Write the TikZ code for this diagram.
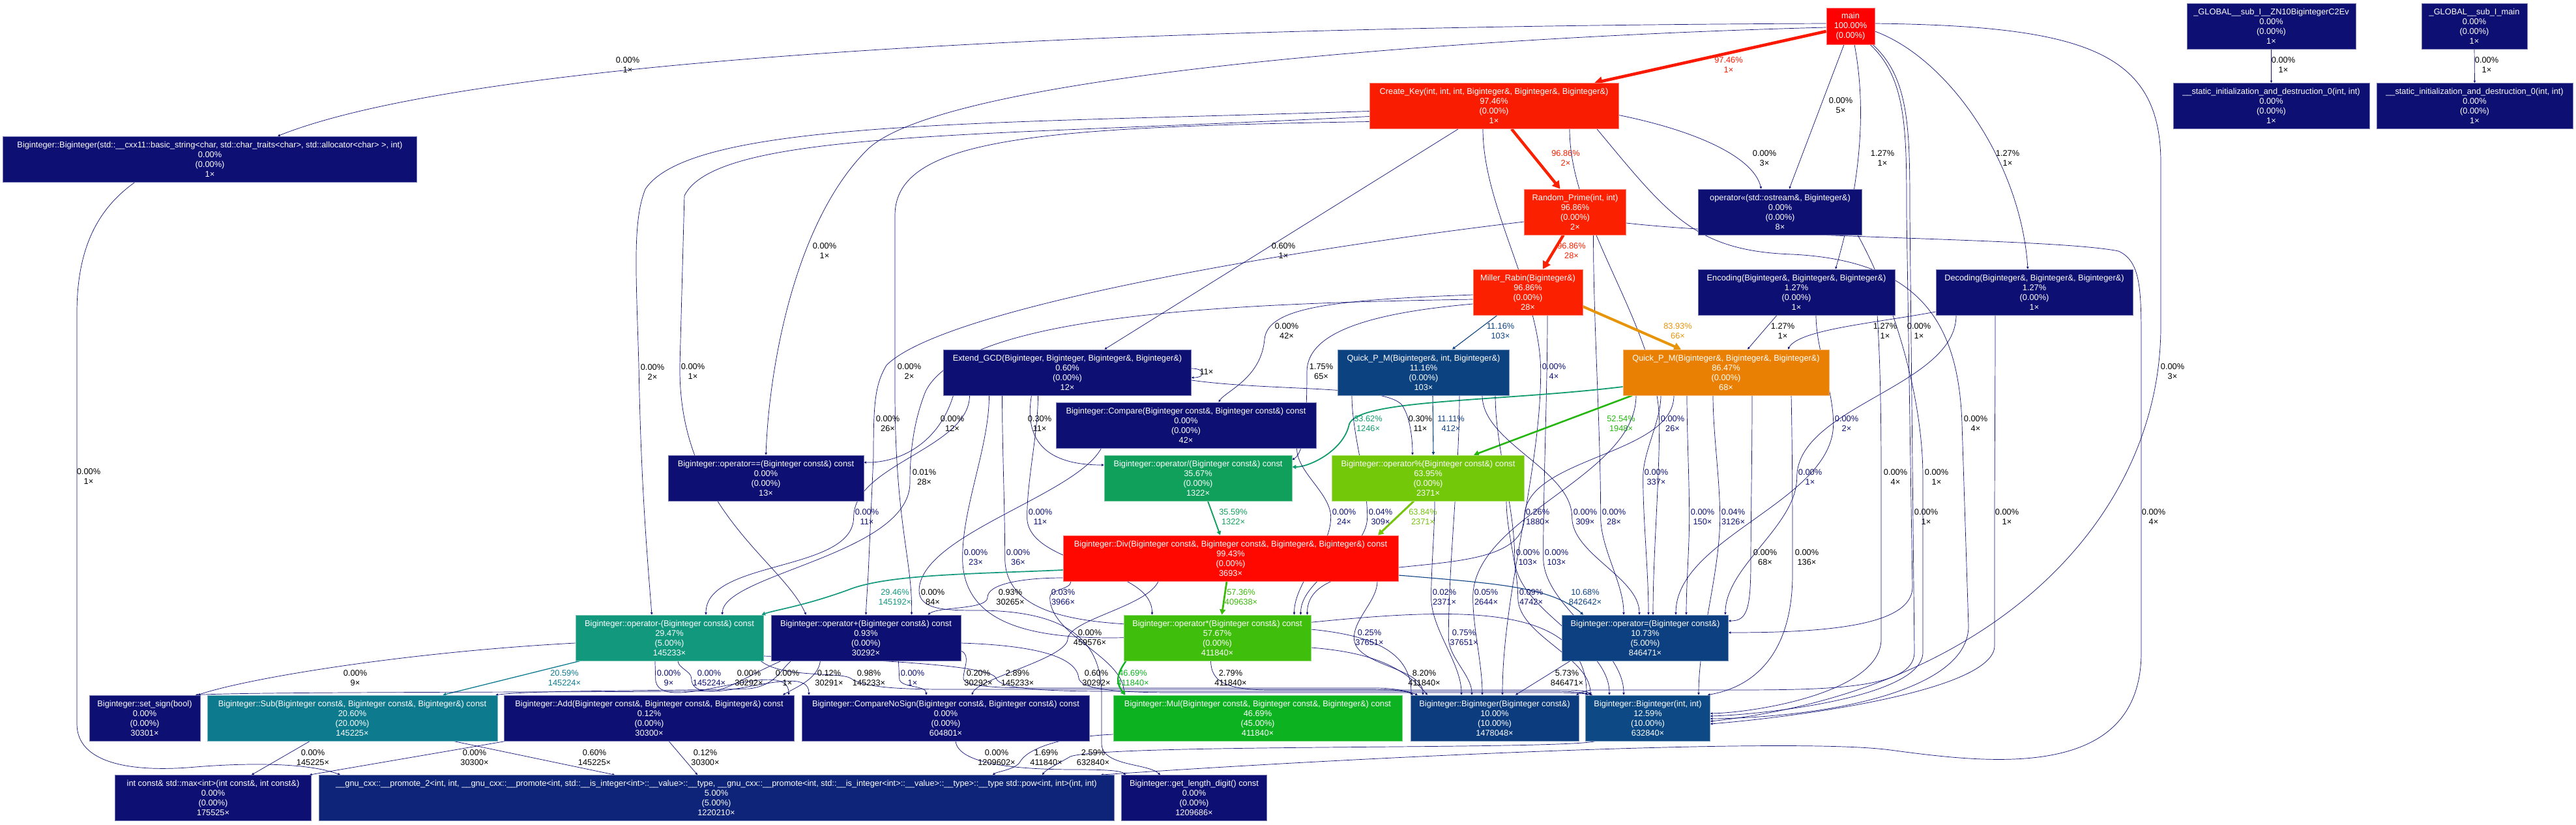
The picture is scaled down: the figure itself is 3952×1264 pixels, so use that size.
\documentclass[tikz,border=0pt]{standalone}
\usepackage{fontspec}
\setmainfont{Liberation Sans}
\usetikzlibrary{arrows.meta}
\definecolor{navy}{RGB}{13,15,115}
\definecolor{redM}{RGB}{255,0,0}
\definecolor{redA}{RGB}{250,25,0}
\definecolor{redC}{RGB}{250,28,0}
\definecolor{redB}{RGB}{250,32,0}
\definecolor{redD}{RGB}{255,8,0}
\definecolor{orangeA}{RGB}{233,128,3}
\definecolor{orangeE}{RGB}{232,148,8}
\definecolor{greenM}{RGB}{115,200,10}
\definecolor{greenD}{RGB}{118,196,14}
\definecolor{greenS}{RGB}{64,190,12}
\definecolor{greenA}{RGB}{60,186,10}
\definecolor{greenB}{RGB}{38,182,16}
\definecolor{greenC}{RGB}{12,178,32}
\definecolor{tealD}{RGB}{16,160,92}
\definecolor{tealB}{RGB}{16,155,110}
\definecolor{tealA}{RGB}{18,152,125}
\definecolor{tealC}{RGB}{14,122,142}
\definecolor{blueA}{RGB}{13,66,128}
\definecolor{blueB}{RGB}{13,64,128}
\definecolor{blueC}{RGB}{13,60,126}
\definecolor{blueD}{RGB}{13,74,133}
\definecolor{blueE}{RGB}{13,36,120}
\pgfdeclarelayer{edges}
\pgfsetlayers{edges,main}
\tikzset{
  >={Triangle[length=2pt 2.2,width=1.5pt 2.6]},
  fn/.style={fill=#1,draw=#1!55!white,line width=0.8pt,text=white,
    font=\fontsize{12.8}{15}\selectfont,align=center,inner sep=0pt,minimum height=70pt},
  fn/.default=navy,
  lbl/.style={font=\fontsize{12.8}{15}\selectfont,align=center,inner sep=0pt},
  call/.style={->,draw=#1,line width=0.7pt},
  call/.default=navy,
}
% label first, then the call bent past its left side
\newcommand{\calls}[6][navy]{%
  \node[lbl,text=#1] (l) at (#4) {#5\\#6×};
  \draw[call=#1] (#2) to[out=-90,in=90,looseness=0.8] ([xshift=-2pt]l.west)
    to[out=-90,in=90,looseness=0.8] (#3);}

\begin{document}
\begin{tikzpicture}[x=1pt,y=-1pt]
\useasboundingbox (0,0) rectangle (3952,1264);
% functions
\node[fn=redM,minimum width=74pt,minimum height=56pt] (main) at (2839,40) {main\\100.00\%\\(0.00\%)};
\node[fn,minimum width=259pt] (g1) at (3484.5,40) {\_GLOBAL\_\_sub\_I\_\_ZN10BigintegerC2Ev\\0.00\%\\(0.00\%)\\1×};
\node[fn,minimum width=162pt] (g2) at (3796,40) {\_GLOBAL\_\_sub\_I\_main\\0.00\%\\(0.00\%)\\1×};
\node[fn,minimum width=301pt] (s1) at (3484.5,162.5) {\_\_static\_initialization\_and\_destruction\_0(int, int)\\0.00\%\\(0.00\%)\\1×};
\node[fn,minimum width=301pt] (s2) at (3796.5,162.5) {\_\_static\_initialization\_and\_destruction\_0(int, int)\\0.00\%\\(0.00\%)\\1×};
\node[fn,minimum width=635pt] (bstr) at (322,244) {Biginteger::Biginteger(std::\_\_cxx11::basic\_string<char, std::char\_traits<char>, std::allocator<char> >, int)\\0.00\%\\(0.00\%)\\1×};
\node[fn=redC,minimum width=382pt] (ckey) at (2292,162.5) {Create\_Key(int, int, int, Biginteger\&, Biginteger\&, Biginteger\&)\\97.46\%\\(0.00\%)\\1×};
\node[fn=redB,minimum width=156pt] (rprime) at (2416.5,325) {Random\_Prime(int, int)\\96.86\%\\(0.00\%)\\2×};
\node[fn,minimum width=251pt] (ostream) at (2731,325) {operator<<(std::ostream\&, Biginteger\&)\\0.00\%\\(0.00\%)\\8×};
\node[fn=redB,minimum width=168pt] (miller) at (2344,448) {Miller\_Rabin(Biginteger\&)\\96.86\%\\(0.00\%)\\28×};
\node[fn,minimum width=302pt] (encoding) at (2756,448) {Encoding(Biginteger\&, Biginteger\&, Biginteger\&)\\1.27\%\\(0.00\%)\\1×};
\node[fn,minimum width=302pt] (decoding) at (3121,448) {Decoding(Biginteger\&, Biginteger\&, Biginteger\&)\\1.27\%\\(0.00\%)\\1×};
\node[fn,minimum width=380pt] (egcd) at (1637.5,571) {Extend\_GCD(Biginteger, Biginteger, Biginteger\&, Biginteger\&)\\0.60\%\\(0.00\%)\\12×};
\node[fn=blueA,minimum width=263pt] (qpmi) at (2184,571) {Quick\_P\_M(Biginteger\&, int, Biginteger\&)\\11.16\%\\(0.00\%)\\103×};
\node[fn=orangeA,minimum width=316pt] (qpmb) at (2648,571) {Quick\_P\_M(Biginteger\&, Biginteger\&, Biginteger\&)\\86.47\%\\(0.00\%)\\68×};
\node[fn,minimum width=399pt] (compare) at (1819.5,652) {Biginteger::Compare(Biginteger const\&, Biginteger const\&) const\\0.00\%\\(0.00\%)\\42×};
\node[fn,minimum width=300pt] (opeq) at (1175,733) {Biginteger::operator==(Biginteger const\&) const\\0.00\%\\(0.00\%)\\13×};
\node[fn=tealD,minimum width=288pt] (opdiv) at (1838,733) {Biginteger::operator/(Biginteger const\&) const\\35.67\%\\(0.00\%)\\1322×};
\node[fn=greenM,minimum width=295pt] (opmod) at (2191,733) {Biginteger::operator\%(Biginteger const\&) const\\63.95\%\\(0.00\%)\\2371×};
\node[fn=redD,minimum width=514pt] (div) at (1888,856) {Biginteger::Div(Biginteger const\&, Biginteger const\&, Biginteger\&, Biginteger\&) const\\99.43\%\\(0.00\%)\\3693×};
\node[fn=tealA,minimum width=288pt] (opsub) at (1027,978) {Biginteger::operator-(Biginteger const\&) const\\29.47\%\\(5.00\%)\\145233×};
\node[fn,minimum width=291pt] (opadd) at (1328.5,978) {Biginteger::operator+(Biginteger const\&) const\\0.93\%\\(0.00\%)\\30292×};
\node[fn=greenS,minimum width=287pt] (opmul) at (1867.5,978) {Biginteger::operator*(Biginteger const\&) const\\57.67\%\\(0.00\%)\\411840×};
\node[fn=blueB,minimum width=255pt] (opset) at (2524,978) {Biginteger::operator=(Biginteger const\&)\\10.73\%\\(5.00\%)\\846471×};
\node[fn,minimum width=170pt] (setsign) at (222,1101) {Biginteger::set\_sign(bool)\\0.00\%\\(0.00\%)\\30301×};
\node[fn=tealC,minimum width=445pt] (sub) at (540.5,1101) {Biginteger::Sub(Biginteger const\&, Biginteger const\&, Biginteger\&) const\\20.60\%\\(20.00\%)\\145225×};
\node[fn,minimum width=445pt] (add) at (996,1101) {Biginteger::Add(Biginteger const\&, Biginteger const\&, Biginteger\&) const\\0.12\%\\(0.00\%)\\30300×};
\node[fn,minimum width=441pt] (cmpns) at (1451,1101) {Biginteger::CompareNoSign(Biginteger const\&, Biginteger const\&) const\\0.00\%\\(0.00\%)\\604801×};
\node[fn=greenC,minimum width=443pt] (mul) at (1929.5,1101) {Biginteger::Mul(Biginteger const\&, Biginteger const\&, Biginteger\&) const\\46.69\%\\(45.00\%)\\411840×};
\node[fn=blueC,minimum width=258pt] (bcopy) at (2293,1101) {Biginteger::Biginteger(Biginteger const\&)\\10.00\%\\(10.00\%)\\1478048×};
\node[fn=blueD,minimum width=191pt] (bint) at (2528,1101) {Biginteger::Biginteger(int, int)\\12.59\%\\(10.00\%)\\632840×};
\node[fn,minimum width=301pt] (imax) at (327,1223.5) {int const\& std::max<int>(int const\&, int const\&)\\0.00\%\\(0.00\%)\\175525×};
\node[fn=blueE,minimum width=1220pt] (pow) at (1099,1223.5) {\_\_gnu\_cxx::\_\_promote\_2<int, int, \_\_gnu\_cxx::\_\_promote<int, std::\_\_is\_integer<int>::\_\_value>::\_\_type, \_\_gnu\_cxx::\_\_promote<int, std::\_\_is\_integer<int>::\_\_value>::\_\_type>::\_\_type std::pow<int, int>(int, int)\\5.00\%\\(5.00\%)\\1220210×};
\node[fn,minimum width=223pt] (gld) at (1832,1223.5) {Biginteger::get\_length\_digit() const\\0.00\%\\(0.00\%)\\1209686×};

\begin{pgfonlayer}{edges}
\fill[white] (0,0) rectangle (3952,1264);
% calls from main
\draw[call=redA,line width=4.6pt] ([yshift=-8]main.west) -- ([xshift=154]ckey.north);
\node[lbl,text=redA] at (2652,100) {97.46\%\\1×};
\draw[call] ([yshift=4]main.west) .. controls (1800,40) and (750,80) .. ([xshift=104]bstr.north);
\node[lbl] at (963,100) {0.00\%\\1×};
\draw[call] ([yshift=-2]main.west) .. controls (2300,55) and (1450,110) .. (1330,230) .. controls (1220,340) and (1180,560) .. (opeq.north);
\node[lbl] at (1265,385) {0.00\%\\1×};
\draw[call] ([xshift=-10]main.south) -- ([xshift=14]ostream.north);
\node[lbl] at (2824,162) {0.00\%\\5×};
\draw[call] ([xshift=6]main.south) .. controls (2870,200) and (2840,330) .. ([xshift=60]encoding.north);
\node[lbl] at (2888,243) {1.27\%\\1×};
\draw[call] ([yshift=-8]main.east) .. controls (2990,90) and (3100,250) .. ([xshift=-10]decoding.north);
\node[lbl] at (3080,243) {1.27\%\\1×};
\draw[call] ([yshift=4]main.east) .. controls (3200,40) and (3315,80) .. (3315,250) -- (3315,500) .. controls (3315,800) and (3050,1060) .. ([yshift=-5]bint.east);
\node[lbl] at (3333,570) {0.00\%\\3×};
\draw[call] ([xshift=30]main.south) .. controls (2925,120) and (2925,200) .. (2925,330) -- (2934,900) .. controls (2934,960) and (2800,970) .. ([yshift=8]opset.east);
\node[lbl] at (2944,508) {0.00\%\\1×};
\draw[call] ([xshift=34]main.south) .. controls (2930,120) and (2930,200) .. (2930,330) -- (2937,1000) .. controls (2937,1058) and (2800,1058) .. (2640,1058) -- (2440,1058) .. controls (2430,1060) and (2425,1062) .. ([xshift=125]bcopy.north);
\node[lbl] at (2955,793) {0.00\%\\1×};
\draw[call] (g1.south) -- (s1.north);
\node[lbl] at (3503,100) {0.00\%\\1×};
\draw[call] (g2.south) -- (s2.north);
\node[lbl] at (3815,100) {0.00\%\\1×};

% Create_Key and Random_Prime
\draw[call=redB,line width=4.4pt] ([xshift=27]ckey.south) -- ([xshift=-23]rprime.north);
\node[lbl,text=redB] at (2402,243) {96.86\%\\2×};
\draw[call=redB,line width=4.4pt] ([xshift=-18]rprime.south) -- ([xshift=23]miller.north);
\node[lbl,text=redB] at (2411,385) {96.86\%\\28×};
\draw[call] ([yshift=-14]ckey.east) .. controls (2600,200) and (2690,240) .. ([xshift=-29]ostream.north);
\node[lbl] at (2707,243) {0.00\%\\3×};
\draw[call] ([xshift=-55]ckey.south) -- ([xshift=57]egcd.north);
\node[lbl] at (1969,385) {0.60\%\\1×};
\draw[call] ([yshift=-8]ckey.west) .. controls (1500,190) and (1060,185) .. (990,290) .. controls (970,340) and (976,420) .. (980,560) .. controls (983,720) and (990,820) .. ([xshift=-27]opsub.north);
\node[lbl] at (1001,571) {0.00\%\\2×};
\draw[call] ([yshift=-16]ckey.west) .. controls (1500,210) and (1100,200) .. (1050,300) -- (1043,560) .. controls (1040,780) and (1200,860) .. ([xshift=-92]opadd.north);
\node[lbl] at (1063,570) {0.00\%\\1×};
\draw[call] ([yshift=-24]ckey.west) .. controls (1600,195) and (1373,210) .. (1373,330) -- (1373,600) .. controls (1373,800) and (1400,860) .. ([xshift=70]opadd.north);
\node[lbl] at (1395,570) {0.00\%\\2×};
\draw[call] ([xshift=158]ckey.south) .. controls (2560,330) and (2600,385) .. (2750,390) .. controls (2950,400) and (3005,500) .. (3010,650) -- (3020,960) .. controls (3020,1060) and (2800,1100) .. ([yshift=-1]bint.east);
\node[lbl] at (3031,650) {0.00\%\\4×};
\calls{[xshift=-17]ckey.south}{[xshift=12]bcopy.north}{2384,570}{0.00\%}{4}
\calls{[xshift=116]ckey.south}{[xshift=12]opset.north}{2566,650}{0.00\%}{26}
\draw[call] ([yshift=-15]rprime.west) .. controls (2000,380) and (1450,470) .. (1360,560) .. controls (1342,590) and (1340,620) .. (1340,700) -- (1332,880) .. controls (1330,915) and (1329,925) .. (opadd.north);
\node[lbl] at (1362,650) {0.00\%\\26×};
\calls{[xshift=28]rprime.south}{[xshift=-33]opset.north}{2476,793}{0.00\%}{28}
\draw[call] ([yshift=-17]rprime.east) .. controls (2700,365) and (3150,365) .. (3250,385) .. controls (3283,400) and (3285,440) .. (3285,520) -- (3285,1000) .. controls (3285,1200) and (3050,1170) .. (2900,1150) .. controls (2750,1130) and (2100,1160) .. ([xshift=590]pow.north);
\node[lbl] at (3304,793) {0.00\%\\4×};

% Miller_Rabin, Encoding, Decoding
\draw[call=blueA,line width=1.1pt] ([xshift=-47]miller.south) -- ([xshift=44]qpmi.north);
\node[lbl,text=blueA] at (2302,508) {11.16\%\\103×};
\draw[call=orangeE,line width=4pt] ([yshift=-22]miller.east) -- ([xshift=-69]qpmb.north);
\node[lbl,text=orangeE] at (2574,508) {83.93\%\\66×};
\draw[call] ([yshift=-4]miller.west) .. controls (2050,460) and (1945,470) .. (1940,520) .. controls (1935,580) and (1880,600) .. ([xshift=50]compare.north);
\node[lbl] at (1974,508) {0.00\%\\42×};
\draw[call] ([yshift=-18]miller.west) .. controls (2100,480) and (2005,510) .. (2005,570) .. controls (2005,650) and (2000,695) .. ([yshift=28]opdiv.east);
\node[lbl] at (2027,570) {1.75\%\\65×};
\draw[call] ([yshift=-11]miller.west) .. controls (1900,465) and (1480,480) .. (1420,600) .. controls (1400,650) and (1396,700) .. (1396,740) .. controls (1396,850) and (1110,880) .. ([xshift=81]opsub.north);
\node[lbl] at (1418,732) {0.01\%\\28×};
\calls{[xshift=30]miller.south}{[xshift=-37]bint.north}{2388,855}{0.00\%}{103}
\draw[call] ([xshift=-30]encoding.south) -- ([xshift=33]qpmb.north);
\node[lbl] at (2735,508) {1.27\%\\1×};
\draw[call] ([yshift=-30]decoding.west) .. controls (2880,495) and (2760,505) .. ([xshift=95]qpmb.north);
\node[lbl] at (2892,508) {1.27\%\\1×};
\calls{[xshift=30]encoding.south}{[xshift=47]opset.north}{2833,650}{0.00\%}{2}
\draw[call] ([xshift=124]encoding.south) .. controls (2885,560) and (2886,650) .. (2886,732) -- (2886,980) .. controls (2886,1060) and (2700,1092) .. ([yshift=7]bint.east);
\node[lbl] at (2908,732) {0.00\%\\4×};
\draw[call] ([xshift=119]ostream.south) .. controls (2900,450) and (2950,600) .. (2950,732) -- (2950,1000) .. controls (2950,1070) and (2700,1096) .. ([yshift=3]bint.east);
\node[lbl] at (2971,732) {0.00\%\\1×};
\calls{[xshift=-120]decoding.south}{[xshift=-5]opset.north east}{2777,732}{0.00\%}{1}
\draw[call] ([xshift=-60]decoding.south) .. controls (3061,600) and (3060,700) .. (3060,800) -- (3060,990) .. controls (3060,1060) and (2750,1100) .. ([yshift=-9]bint.east);
\node[lbl] at (3079,793) {0.00\%\\1×};

% Quick_P_M
\draw[call=blueA,line width=1.1pt] ([xshift=14]qpmi.south) -- ([xshift=8]opmod.north);
\node[lbl,text=blueA] at (2226,650) {11.11\%\\412×};
\draw[call=greenB,line width=2.6pt] ([xshift=-144]qpmb.south) -- ([xshift=70]opmod.north);
\node[lbl,text=greenB] at (2487,650) {52.54\%\\1948×};
\draw[call=tealB,line width=1.8pt] ([yshift=-22]qpmb.west) .. controls (2300,616) and (2085,612) .. (2070,650) .. controls (2062,690) and (2010,716) .. ([yshift=17]opdiv.east);
\node[lbl,text=tealB] at (2099,650) {33.62\%\\1246×};
\calls{[xshift=-100]qpmb.south}{[xshift=5]opset.north}{2541,732}{0.00\%}{337}
\calls{[xshift=-60]qpmb.south}{[xshift=63]opset.north}{2612,793}{0.00\%}{150}
\calls{[xshift=-20]qpmb.south}{[xshift=78]bint.north}{2659,793}{0.04\%}{3126}
\draw[call] ([xshift=40]qpmb.south) .. controls (2688,700) and (2686,800) .. (2686,860) .. controls (2686,935) and (2680,952) .. ([yshift=26]opset.east);
\node[lbl] at (2708,855) {0.00\%\\68×};
\draw[call] ([xshift=100]qpmb.south) .. controls (2750,700) and (2750,800) .. (2750,880) .. controls (2750,1040) and (2650,1060) .. ([xshift=-4]bint.north east);
\node[lbl] at (2772,855) {0.00\%\\136×};
\calls{[xshift=-80]qpmb.south}{[xshift=138]opmul.north}{2359,793}{0.26\%}{1880}
\calls{[xshift=-138]qpmb.south}{[xshift=-19]bcopy.north}{2280,916}{0.05\%}{2644}
\calls{[xshift=-110]qpmi.south}{[xshift=128]opmul.north}{2118,793}{0.04\%}{309}
\calls{[xshift=90]qpmi.south}{[xshift=-9]opset.north}{2432,793}{0.00\%}{309}
\calls{[xshift=110]qpmi.south}{[xshift=-59]bint.north}{2344,855}{0.00\%}{103}
\calls{[xshift=55]qpmi.south}{[xshift=-35]bcopy.north}{2246,978}{0.75\%}{37651}

% Extend_GCD and Compare
\draw[call] ([yshift=6]egcd.east) .. controls +(22,0) and +(22,0) .. ([yshift=-8]egcd.east);
\node[lbl] at (1851,570) {11×};
\draw[call] ([xshift=-175]egcd.south) .. controls (1440,680) and (1380,710) .. ([yshift=24]opeq.east);
\node[lbl] at (1461,650) {0.00\%\\12×};
\draw[call] ([xshift=-55]egcd.south) .. controls (1570,680) and (1610,713) .. ([yshift=20]opdiv.west);
\node[lbl] at (1595,650) {0.30\%\\11×};
\draw[call] ([yshift=-12]egcd.east) .. controls (1950,600) and (2120,590) .. (2150,620) .. controls (2165,640) and (2167,680) .. ([xshift=-24]opmod.north);
\node[lbl] at (2179,650) {0.30\%\\11×};
\calls{[xshift=-150]egcd.south}{[xshift=56]opsub.north}{1330,793}{0.00\%}{11}
\calls{[xshift=-45]egcd.south}{[xshift=-100]opmul.north}{1596,793}{0.00\%}{11}
\calls{[xshift=-100]egcd.south}{[xshift=-128]bcopy.north}{1562,855}{0.00\%}{36}
\calls{[xshift=-120]egcd.south}{[xshift=-94]bint.north}{1497,855}{0.00\%}{23}
\draw[call] ([xshift=-130]compare.south) .. controls (1650,760) and (1412,820) .. (1410,905) .. controls (1410,935) and (1450,936) .. (1500,936) .. controls (1660,936) and (1690,1000) .. (1690,1066) -- (1690,1140) .. controls (1690,1175) and (1760,1170) .. ([xshift=-52]gld.north);
\node[lbl] at (1431,916) {0.00\%\\84×};
\calls{[xshift=170]compare.south}{[xshift=118]opmul.north}{2062,793}{0.00\%}{24}

% Div
\draw[call=greenD,line width=3pt] ([xshift=-22]opmod.south) -- ([xshift=226]div.north);
\node[lbl,text=greenD] at (2183,793) {63.84\%\\2371×};
\draw[call=tealD,line width=1.9pt] ([xshift=15]opdiv.south) -- ([xshift=-16]div.north);
\node[lbl,text=tealD] at (1892,793) {35.59\%\\1322×};
\draw[call=tealA,line width=1.7pt] ([yshift=-18]div.west) .. controls (1500,880) and (1360,880) .. (1300,905) .. controls (1230,930) and (1190,935) .. ([xshift=-3]opsub.north east);
\node[lbl,text=tealA] at (1373,916) {29.46\%\\145192×};
\draw[call] ([yshift=-30]div.west) .. controls (1570,886) and (1515,895) .. (1515,916) .. controls (1515,935) and (1440,930) .. ([xshift=95]opadd.north);
\node[lbl] at (1550,916) {0.93\%\\30265×};
\draw[call=greenA,line width=2.8pt] ([xshift=-6]div.south) -- ([xshift=7]opmul.north);
\node[lbl,text=greenA] at (1904,916) {57.36\%\\409638×};
\draw[call=blueB,line width=1.1pt] ([yshift=-26]div.east) .. controls (2300,895) and (2380,900) .. ([xshift=-95]opset.north);
\node[lbl,text=blueB] at (2432,916) {10.68\%\\842642×};
\draw[call] ([xshift=-111]div.south) .. controls (1760,930) and (1640,950) .. (1638,980) .. controls (1636,1010) and (1500,1040) .. ([xshift=40]cmpns.north);
\node[lbl] at (1672,978) {0.00\%\\459576×};
\calls{[xshift=-245]div.south}{[xshift=-205]mul.north}{1631,916}{0.03\%}{3966}
\calls{[xshift=225]div.south}{[xshift=-110]bcopy.north}{2101,978}{0.25\%}{37651}
\calls{[xshift=10]opmod.south}{[xshift=-51]bcopy.north}{2216,916}{0.02\%}{2371}
\calls{[xshift=120]opmod.south}{[xshift=-88]bint.north}{2349,916}{0.09\%}{4742}

% operators
\draw[call] ([yshift=-8]opsub.west) .. controls (620,1000) and (380,1040) .. ([xshift=-4]setsign.north east);
\node[lbl] at (545,1040) {0.00\%\\9×};
\draw[call=tealC,line width=1.3pt] ([xshift=-137]opsub.south) -- ([xshift=139]sub.north);
\node[lbl,text=tealC] at (866,1040) {20.59\%\\145224×};
\calls{[xshift=-22]opsub.south}{[xshift=214]add.north}{1026,1040}{0.00\%}{9}
\calls{[xshift=13]opsub.south}{[xshift=-210]cmpns.north}{1088,1040}{0.00\%}{145224}
\draw[call] ([xshift=140]opsub.south) .. controls (1200,1040) and (1290,1030) .. (1305,1040) .. controls (1320,1050) and (1350,1057) .. (1450,1057) -- (2100,1057) .. controls (2140,1057) and (2160,1060) .. ([xshift=-125]bcopy.north);
\node[lbl] at (1333,1040) {0.98\%\\145233×};
\draw[call] ([yshift=-28]opsub.east) .. controls (1300,1010) and (1522,1018) .. (1528,1040) .. controls (1534,1056) and (1600,1060) .. (1700,1060) -- (2380,1060) .. controls (2420,1060) and (2430,1062) .. ([xshift=-92]bint.north);
\node[lbl] at (1561,1040) {2.89\%\\145233×};
\draw[call] ([xshift=-130]opadd.south) .. controls (1150,1035) and (1130,1050) .. (1100,1059) .. controls (1000,1062) and (400,1060) .. ([xshift=78]setsign.north);
\node[lbl] at (1149,1040) {0.00\%\\30292×};
\draw[call] ([xshift=-115]opadd.south) .. controls (1195,1030) and (1190,1050) .. (1150,1056) .. controls (1000,1060) and (820,1058) .. ([xshift=220]sub.north);
\node[lbl] at (1208,1040) {0.00\%\\1×};
\draw[call] ([xshift=-70]opadd.south) .. controls (1255,1040) and (1225,1052) .. ([xshift=205]add.north);
\node[lbl] at (1272,1040) {0.12\%\\30291×};
\calls{[xshift=50]opadd.south}{[xshift=-30]cmpns.north}{1400,1040}{0.00\%}{1}
\draw[call] ([yshift=-20]opadd.east) .. controls (1490,1005) and (1478,1025) .. (1478,1040) .. controls (1478,1052) and (1520,1055) .. (1600,1055) -- (2110,1055) .. controls (2140,1055) and (2160,1060) .. ([xshift=-118]bcopy.north);
\node[lbl] at (1501,1040) {0.20\%\\30292×};
\draw[call] ([yshift=-8]opadd.east) .. controls (1600,990) and (1652,1010) .. (1655,1040) .. controls (1658,1055) and (1700,1062) .. (1800,1062) -- (2380,1062) .. controls (2415,1062) and (2428,1063) .. ([xshift=-85]bint.north);
\node[lbl] at (1682,1040) {0.60\%\\30292×};
\draw[call=greenC,line width=2.3pt] ([xshift=-140]opmul.south) .. controls (1712,1035) and (1712,1048) .. ([xshift=-203]mul.north);
\node[lbl,text=greenC] at (1738,1040) {46.69\%\\411840×};
\draw[call] ([xshift=-10]opmul.south) .. controls (1858,1045) and (1880,1058) .. (1950,1058) -- (2400,1058) .. controls (2425,1058) and (2436,1060) .. ([xshift=-88]bint.north);
\node[lbl] at (1888,1040) {2.79\%\\411840×};
\draw[call] ([yshift=-15]opmul.east) .. controls (2100,1000) and (2150,1020) .. ([xshift=-103]bcopy.north);
\node[lbl] at (2185,1040) {8.20\%\\411840×};
\draw[call] ([xshift=-115]opset.south) -- ([xshift=32]bcopy.north);
\node[lbl] at (2404,1040) {5.73\%\\846471×};

% bottom row
\draw[call] ([xshift=-65]sub.south) -- ([xshift=59]imax.north);
\node[lbl] at (480,1162) {0.00\%\\145225×};
\draw[call] ([xshift=-220]add.south) -- ([xshift=-3]imax.north east);
\node[lbl] at (728,1162) {0.00\%\\30300×};
\draw[call] ([xshift=155]sub.south) -- ([xshift=-156]pow.north);
\node[lbl] at (912,1162) {0.60\%\\145225×};
\draw[call] ([xshift=30]add.south) -- ([xshift=-29]pow.north);
\node[lbl] at (1082,1162) {0.12\%\\30300×};
\draw[call] ([xshift=15]cmpns.south) .. controls (1470,1172) and (1560,1180) .. (1650,1180) .. controls (1700,1180) and (1720,1182) .. ([xshift=-105]gld.north);
\node[lbl] at (1529,1162) {0.00\%\\1209602×};
\draw[call] ([yshift=-25]mul.west) .. controls (1620,1130) and (1575,1150) .. (1565,1168) .. controls (1558,1180) and (1530,1183) .. ([xshift=424]pow.north);
\node[lbl] at (1605,1162) {1.69\%\\411840×};
\draw[call] ([xshift=-80]bint.south) .. controls (2400,1150) and (1700,1140) .. (1642,1160) .. controls (1625,1170) and (1605,1180) .. ([xshift=500]pow.north);
\node[lbl] at (1677,1162) {2.59\%\\632840×};
\draw[call] ([xshift=-115]bstr.south) .. controls (150,320) and (118,380) .. (118,480) -- (118,1110) .. controls (118,1170) and (200,1185) .. (300,1176) .. controls (400,1168) and (480,1172) .. ([xshift=-577]pow.north);
\node[lbl] at (136,731) {0.00\%\\1×};
\end{pgfonlayer}
\end{tikzpicture}
\end{document}
